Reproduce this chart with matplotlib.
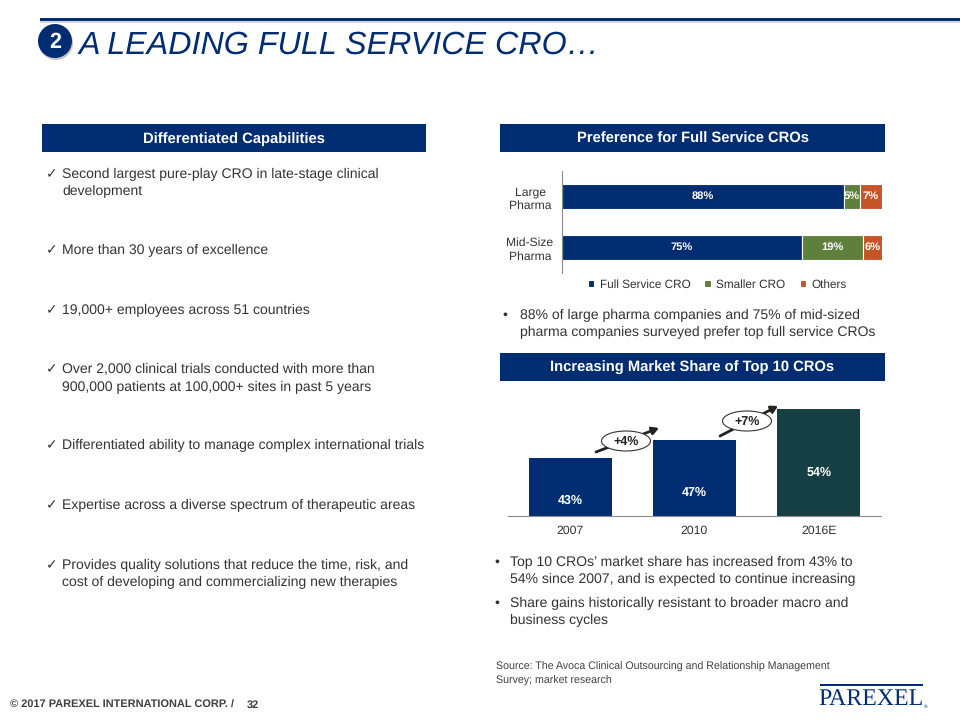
import matplotlib
matplotlib.use("Agg")
import matplotlib.pyplot as plt
from matplotlib.patches import Rectangle, Ellipse, Circle
import numpy as np

plt.rcParams['font.family'] = ['Liberation Sans', 'DejaVu Sans']
plt.rcParams['text.hinting'] = 'no_hinting'

W, H = 960, 720
NAVY = '#002D72'
GREEN = '#5F7F3C'
ORANGE = '#C55527'
TEAL = '#153F43'
TXT = '#333333'

# preference chart
pref_cats = ['Large\nPharma', 'Mid-Size\nPharma']
full_service = [88, 75]
smaller_cro = [5, 19]
others = [7, 6]

# market share chart
share_years = ['2007', '2010', '2016E']
share_vals = [43, 47, 54]
share_drop = [43, 53, 64]   # label distance below bar top, px
share_cols = [NAVY, NAVY, TEAL]
gains = ['+4%', '+7%']

left_items = [
    (174, 'Second largest pure-play CRO in late-stage clinical'),
    (191, 'development', False),
    (250, 'More than 30 years of excellence'),
    (310, '19,000+ employees across 51 countries'),
    (369, 'Over 2,000 clinical trials conducted with more than'),
    (387, '900,000 patients at 100,000+ sites in past 5 years', False),
    (445, 'Differentiated ability to manage complex international trials'),
    (505, 'Expertise across a diverse spectrum of therapeutic areas'),
    (565, 'Provides quality solutions that reduce the time, risk, and'),
    (582, 'cost of developing and commercializing new therapies', False),
]
top_notes = [
    (315, '88% of large pharma companies and 75% of mid-sized', True),
    (332, 'pharma companies surveyed prefer top full service CROs', False),
]
bottom_notes = [
    (562, 'Top 10 CROs\u2019 market share has increased from 43% to', True),
    (579, '54% since 2007, and is expected to continue increasing', False),
    (603, 'Share gains historically resistant to broader macro and', True),
    (620, 'business cycles', False),
]


def px_axes(x0, y0, x1, y1):
    return fig.add_axes([x0 / W, 1 - y1 / H, (x1 - x0) / W, (y1 - y0) / H])


fig = plt.figure(figsize=(9.6, 7.2), dpi=100, facecolor='white')

# slide furniture in pixel coords
bg = fig.add_axes([0, 0, 1, 1])
bg.set_xlim(0, W)
bg.set_ylim(H, 0)
bg.axis('off')

bg.add_patch(Rectangle((40, 21), 920, 2, color='#d4d4d4', lw=0))
bg.add_patch(Rectangle((40, 18), 920, 3.2, color=NAVY, lw=0))
bg.add_patch(Circle((56, 43), 17, color='#c4c4c4', lw=0))
bg.add_patch(Circle((55, 41), 17, color=NAVY, lw=0))
bg.text(55, 42, '2', color='white', fontsize=15.5, fontweight='bold', ha='center', va='center')
bg.text(79, 45, 'A LEADING FULL SERVICE CRO\u2026', color=NAVY, fontsize=23.2, style='italic',
        ha='left', va='center')

for x0, x1, y0, y1, label in [(42, 426, 124, 152, 'Differentiated Capabilities'),
                              (500, 885, 124, 152, 'Preference for Full Service CROs'),
                              (500, 885, 353, 381, 'Increasing Market Share of Top 10 CROs')]:
    bg.add_patch(Rectangle((x0, y0), x1 - x0, y1 - y0, color=NAVY, lw=0))
    bg.text((x0 + x1) / 2, (y0 + y1) / 2 + 5, label, color='white', fontsize=10.6, fontweight='bold',
            ha='center', va='baseline')

for item in left_items:
    y, s = item[0], item[1]
    if len(item) == 2:
        bg.text(46, y, '\u2713', color=TXT, fontsize=10, ha='left', va='center', family='DejaVu Sans')
    bg.text(62, y, s, color=TXT, fontsize=10.1, ha='left', va='center')

for y, s, dot in top_notes:
    if dot:
        bg.text(502, y, '\u2022', color=TXT, fontsize=10, ha='left', va='center')
    bg.text(520, y, s, color=TXT, fontsize=10.08, ha='left', va='center')

for y, s, dot in bottom_notes:
    if dot:
        bg.text(494, y, '\u2022', color=TXT, fontsize=10, ha='left', va='center')
    bg.text(510, y, s, color=TXT, fontsize=10.08, ha='left', va='center')

bg.text(496, 667, 'Source: The Avoca Clinical Outsourcing and Relationship Management',
        color='#404040', fontsize=7.7, ha='left', va='center')
bg.text(496, 681, 'Survey; market research', color='#404040', fontsize=7.7, ha='left', va='center')

bg.text(10, 705, '\u00a9 2017 PAREXEL INTERNATIONAL CORP. /', color='#404040', fontsize=7.95,
        fontweight='bold', ha='left', va='center')
bg.text(247, 705, '32', color='#404040', fontsize=7.95, fontweight='bold', ha='left', va='center')

bg.add_patch(Rectangle((820, 683.5), 103, 2, color=NAVY, lw=0))
bg.text(818, 699, 'PAREXEL', color=NAVY, fontsize=17.2, family='Liberation Serif', ha='left', va='center')
bg.text(923.5, 707, '\u00ae', color=NAVY, fontsize=3.5, ha='left', va='center')

# stacked bars
ax1 = px_axes(562, 171, 882, 273)
pos = np.arange(len(pref_cats))
lefts = np.zeros(len(pref_cats))
for vals, col, name in [(full_service, NAVY, 'Full Service CRO'),
                        (smaller_cro, GREEN, 'Smaller CRO'),
                        (others, ORANGE, 'Others')]:
    bars = ax1.barh(pos, vals, 0.48, left=lefts, color=col, edgecolor='white', lw=0.8, label=name)
    ax1.bar_label(bars, labels=['%d%%' % v for v in vals], label_type='center', color='white',
                  fontsize=8, fontweight='bold')
    lefts = lefts + np.array(vals)
ax1.set_xlim(0, 100)
ax1.set_ylim(1.5, -0.5)
ax1.set_yticks(pos)
ax1.set_yticklabels(pref_cats, fontsize=8.7, color=TXT, linespacing=1.3, ha='center')
ax1.tick_params(axis='y', length=0, pad=23)
ax1.xaxis.set_visible(False)
for side in ['top', 'right', 'bottom']:
    ax1.spines[side].set_visible(False)
ax1.spines['left'].set_color('#8c8c8c')
ax1.patch.set_alpha(0)
ax1.legend(loc='upper center', bbox_to_anchor=(0.485, -0.005), ncol=3, frameon=False, fontsize=8.5,
           handlelength=0.55, handleheight=0.55, handletextpad=0.45, columnspacing=1.2,
           labelcolor=TXT, borderpad=0)

# market share bars, axis does not start at zero
ax2 = px_axes(508, 395, 881, 515.5)
ax2.bar(share_years, share_vals, 0.667, color=share_cols)
for i, v in enumerate(share_vals):
    ax2.annotate('%d%%' % v, (i, v), xytext=(0, -share_drop[i] * 0.72), textcoords='offset points',
                 color='white', fontsize=9, fontweight='bold', ha='center', va='center')
ax2.set_xlim(-0.5, 2.5)
ax2.set_ylim(30, 30 + 120.5 / 4.45)
ax2.yaxis.set_visible(False)
ax2.tick_params(axis='x', length=0, pad=7, labelsize=8.8, labelcolor=TXT)
for side in ['top', 'right', 'left']:
    ax2.spines[side].set_visible(False)
ax2.spines['bottom'].set_color('#8c8c8c')
ax2.patch.set_alpha(0)

# growth arrows and ovals on top
top = fig.add_axes([0, 0, 1, 1], zorder=5)
top.set_xlim(0, W)
top.set_ylim(H, 0)
top.axis('off')
for (x0, y0, x1, y1), (cx, cy), g in zip([(596, 452, 659, 428), (720, 436, 778, 406)],
                                         [(626, 441), (747, 421)], gains):
    top.annotate('', xy=(x1, y1), xytext=(x0, y0),
                 arrowprops=dict(arrowstyle='-|>,head_length=0.35,head_width=0.2', color='#222222',
                                 lw=2, mutation_scale=11, shrinkA=0, shrinkB=0))
    top.add_patch(Ellipse((cx, cy), 49, 20, fc='white', ec='#333333', lw=0.8, zorder=3))
    top.text(cx, cy + 0.5, g, color='#222222', fontsize=9, fontweight='bold', ha='center', va='center', zorder=4)

fig.savefig('out.png', dpi=100)
